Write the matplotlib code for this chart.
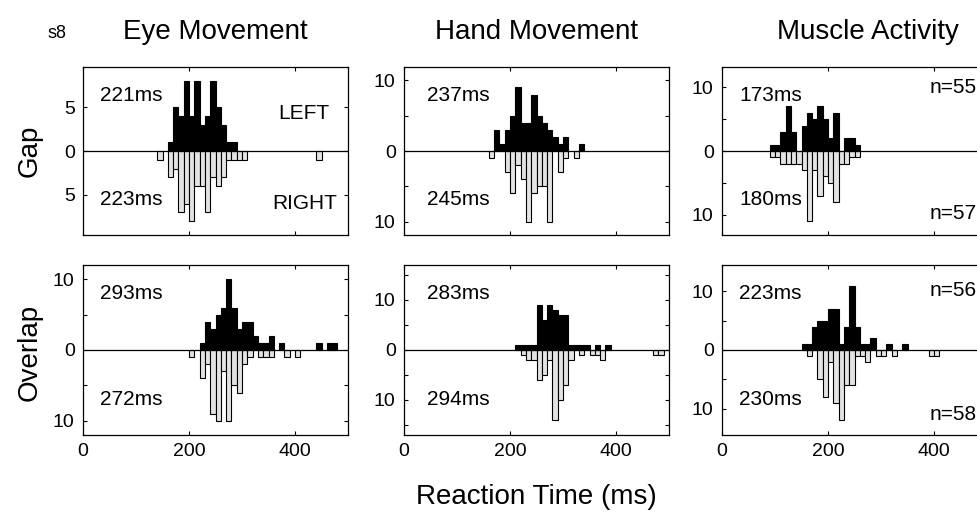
import matplotlib.pyplot as plt
import numpy as np

plt.rcParams['font.family'] = ['Liberation Sans', 'DejaVu Sans']

# reaction time histograms, 10 ms bins (left edge of bin in ms) and counts
eye_gap_left_bins = [160, 170, 180, 190, 200, 210, 220, 230, 240, 250, 260, 270, 280]
eye_gap_left_counts = [1, 5, 4, 8, 4, 8, 3, 4, 8, 5, 3, 1, 1]
eye_gap_right_bins = [140, 160, 170, 180, 190, 200, 210, 220, 230, 240, 250, 260, 270, 280, 290, 300, 440]
eye_gap_right_counts = [1, 3, 2, 7, 6, 8, 4, 4, 7, 3, 4, 3, 1, 1, 1, 1, 1]

hand_gap_left_bins = [170, 180, 190, 200, 210, 220, 230, 240, 250, 260, 270, 280, 290, 300, 330]
hand_gap_left_counts = [3, 1, 3, 5, 9, 4, 4, 8, 5, 4, 3, 2, 1, 2, 1]
hand_gap_right_bins = [160, 190, 200, 210, 220, 230, 240, 250, 260, 270, 290, 300, 320]
hand_gap_right_counts = [1, 3, 6, 2, 4, 10, 6, 5, 5, 10, 3, 1, 1]

emg_gap_left_bins = [90, 100, 110, 120, 130, 150, 160, 170, 180, 190, 200, 210, 230, 240, 250]
emg_gap_left_counts = [1, 1, 3, 7, 3, 4, 6, 5, 7, 5, 2, 6, 2, 2, 1]
emg_gap_right_bins = [90, 100, 110, 120, 130, 140, 150, 160, 170, 180, 190, 200, 210, 220, 230, 240, 250]
emg_gap_right_counts = [1, 1, 2, 2, 2, 2, 3, 11, 3, 7, 4, 5, 8, 2, 2, 1, 1]

eye_ovl_left_bins = [220, 230, 240, 250, 260, 270, 280, 290, 300, 310, 320, 330, 340, 350, 370, 440, 460, 470]
eye_ovl_left_counts = [1, 4, 3, 5, 6, 10, 6, 3, 4, 4, 2, 1, 1, 2, 1, 1, 1, 1]
eye_ovl_right_bins = [200, 220, 230, 240, 250, 260, 270, 280, 290, 300, 310, 330, 340, 350, 380, 400]
eye_ovl_right_counts = [1, 4, 2, 9, 10, 3, 10, 5, 6, 2, 1, 1, 1, 1, 1, 1]

hand_ovl_left_bins = [210, 220, 230, 240, 250, 260, 270, 280, 290, 300, 310, 320, 330, 340, 360, 380]
hand_ovl_left_counts = [1, 1, 1, 1, 9, 6, 9, 8, 7, 7, 1, 1, 1, 1, 1, 1]
hand_ovl_right_bins = [220, 230, 240, 250, 260, 270, 280, 290, 300, 310, 330, 350, 360, 370, 470, 480]
hand_ovl_right_counts = [1, 2, 2, 6, 5, 2, 14, 10, 7, 2, 1, 1, 1, 2, 1, 1]

emg_ovl_left_bins = [150, 160, 170, 180, 190, 200, 210, 220, 230, 240, 250, 260, 270, 280, 310, 340]
emg_ovl_left_counts = [1, 1, 4, 5, 5, 7, 7, 1, 4, 11, 4, 1, 1, 2, 1, 1]
emg_ovl_right_bins = [160, 180, 190, 200, 210, 220, 230, 240, 250, 260, 270, 290, 300, 320, 390, 400]
emg_ovl_right_counts = [1, 5, 8, 2, 9, 12, 6, 6, 1, 1, 2, 1, 1, 1, 1, 1]

# mean reaction times printed in each panel
mean_labels = [["221ms", "223ms"], ["237ms", "245ms"], ["173ms", "180ms"],
               ["293ms", "272ms"], ["283ms", "294ms"], ["223ms", "230ms"]]
n_labels = [["n=55", "n=57"], ["n=56", "n=58"]]

columns = ["Eye Movement", "Hand Movement", "Muscle Activity"]
rows = ["Gap", "Overlap"]

fig = plt.figure(figsize=(9.78, 5.18), dpi=100)
W, H = 978.0, 518.0

col_left = [83, 404, 722]
row_box = [(67, 235), (265, 435)]
ax_w = 265

panels = [
    (eye_gap_left_bins, eye_gap_left_counts, eye_gap_right_bins, eye_gap_right_counts, 9.6,
     [-5, 0, 5], ["5", "0", "5"]),
    (hand_gap_left_bins, hand_gap_left_counts, hand_gap_right_bins, hand_gap_right_counts, 11.9,
     [-10, -5, 0, 5, 10], ["10", "", "0", "", "10"]),
    (emg_gap_left_bins, emg_gap_left_counts, emg_gap_right_bins, emg_gap_right_counts, 13.2,
     [-10, -5, 0, 5, 10], ["10", "", "0", "", "10"]),
    (eye_ovl_left_bins, eye_ovl_left_counts, eye_ovl_right_bins, eye_ovl_right_counts, 12.0,
     [-10, -5, 0, 5, 10], ["10", "", "0", "", "10"]),
    (hand_ovl_left_bins, hand_ovl_left_counts, hand_ovl_right_bins, hand_ovl_right_counts, 17.0,
     [-15, -10, -5, 0, 5, 10, 15], ["", "10", "", "0", "", "10", ""]),
    (emg_ovl_left_bins, emg_ovl_left_counts, emg_ovl_right_bins, emg_ovl_right_counts, 14.5,
     [-10, -5, 0, 5, 10], ["10", "", "0", "", "10"]),
]

for i, (lb, lc, rb, rc, ylim, yt, ytl) in enumerate(panels):
    r, c = divmod(i, 3)
    top, bot = row_box[r]
    ax = fig.add_axes([col_left[c] / W, 1 - bot / H, ax_w / W, (bot - top) / H])
    # leftward responses point up in black, rightward ones hang below in light grey
    ax.bar(lb, lc, width=10, align='edge', color='black', edgecolor='black', linewidth=0.8, zorder=2)
    ax.bar(rb, -np.array(rc), width=10, align='edge', facecolor='#e3e3e3',
           edgecolor='black', linewidth=0.8, zorder=2)
    ax.axhline(0, color='black', lw=0.9, zorder=3)
    ax.set_xlim(0, 500)
    ax.set_ylim(-ylim, ylim)
    ax.set_xticks([0, 200, 400])
    ax.set_yticks(yt)
    ax.set_yticklabels(ytl)
    ax.tick_params(direction='in', top=True, right=True, length=3, width=0.8,
                   labelsize=14, pad=6)
    if r == 0:
        ax.set_xticklabels([])
    for s in ax.spines.values():
        s.set_linewidth(0.9)

    tx = 0.065 if c != 1 else 0.086
    ax.text(tx, 0.83, mean_labels[i][0], transform=ax.transAxes,
            fontsize=15, va='center', ha='left')
    ax.text(tx, 0.21, mean_labels[i][1], transform=ax.transAxes,
            fontsize=15, va='center', ha='left')

    if i == 0:
        ax.text(0.928, 0.726, "LEFT", transform=ax.transAxes, fontsize=15, va='center', ha='right')
        ax.text(0.958, 0.19, "RIGHT", transform=ax.transAxes, fontsize=15, va='center', ha='right')
    if c == 2:
        ny = [(0.88, 0.13), (0.85, 0.12)][r]
        ax.text(0.783, ny[0], n_labels[r][0], transform=ax.transAxes, fontsize=15, va='center', ha='left')
        ax.text(0.783, ny[1], n_labels[r][1], transform=ax.transAxes, fontsize=15, va='center', ha='left')

# column titles and row labels
for c, name in enumerate(columns):
    fig.text((col_left[c] + ax_w / 2) / W if c < 2 else 868 / W, 1 - 39 / H, name,
             fontsize=20, ha='center', va='baseline')
fig.text(48 / W, 1 - 38 / H, "s8", fontsize=13, ha='left', va='baseline')
fig.text(30 / W, 1 - 151 / H, rows[0], fontsize=20, rotation=90, ha='center', va='center')
fig.text(30 / W, 1 - 352 / H, rows[1], fontsize=20, rotation=90, ha='center', va='center')
fig.text(536 / W, 1 - 497 / H, "Reaction Time (ms)", fontsize=20, ha='center', va='center')

fig.savefig("out.png", dpi=100)
